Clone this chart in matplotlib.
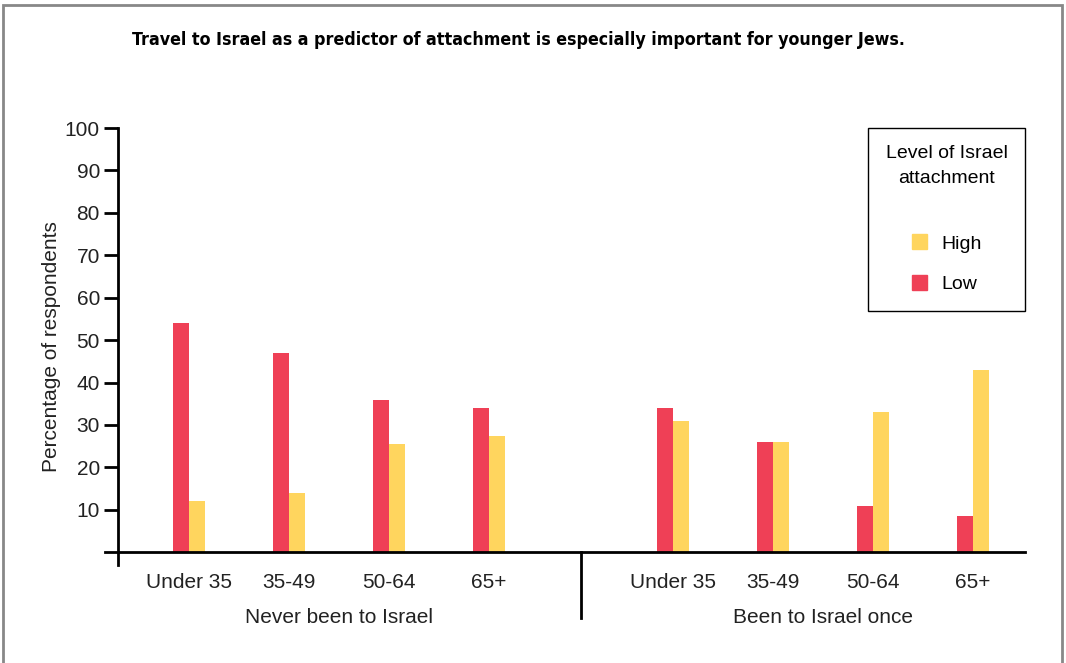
import numpy as np
import matplotlib.pyplot as plt
from matplotlib.patches import Patch, Rectangle

# данные
age_groups = ['Under 35', '35-49', '50-64', '65+']
travel_groups = ['Never been to Israel', 'Been to Israel once']
low_never = [54, 47, 36, 34]
high_never = [12, 14, 25.5, 27.5]
low_once = [34, 26, 11, 8.5]
high_once = [31, 26, 33, 43]

title = 'Travel to Israel as a predictor of attachment is especially important for younger Jews.'
red = '#EF4056'
yellow = '#FFD55E'
text_color = '#222222'

plt.rcParams['font.family'] = ['Liberation Sans', 'DejaVu Sans']

fig = plt.figure(figsize=(10.66, 6.63), dpi=100)
ax = fig.add_axes([105 / 1066, 98 / 663, 920 / 1066, 437 / 663])

gap = 4.84
pos = np.concatenate([np.arange(4), np.arange(4) + gap])
low = low_never + low_once
high = high_never + high_once
w = 0.16

ax.bar(pos - w / 2, low, width=w, color=red, label='Low')
ax.bar(pos + w / 2, high, width=w, color=yellow, label='High')

ax.set_xlim(-0.84, 8.36)
ax.set_ylim(-3, 100)

for s in ['top', 'right']:
    ax.spines[s].set_visible(False)
ax.spines['left'].set_position(('data', -0.71))
ax.spines['bottom'].set_position(('data', 0))
ax.spines['left'].set_linewidth(2)
ax.spines['bottom'].set_linewidth(2)

ax.set_yticks(np.arange(10, 101, 10))
ax.tick_params(axis='y', length=10, width=2, labelsize=15, pad=3, colors=text_color)
ax.tick_params(axis='y', color='black')
ax.set_xticks(pos)
ax.set_xticklabels(age_groups * 2)
ax.tick_params(axis='x', length=0, labelsize=15, pad=15, labelcolor=text_color)

ax.set_ylabel('Percentage of respondents', fontsize=15, color=text_color, labelpad=3)

# подписи групп и разделитель
ax.text(1.5, -15.3, travel_groups[0], ha='center', va='center', fontsize=15, color=text_color)
ax.text(gap + 1.5, -15.3, travel_groups[1], ha='center', va='center', fontsize=15, color=text_color)
ax.plot([(3 + gap) / 2] * 2, [0, -15.5], color='black', lw=2, clip_on=False)

handles = [Patch(color=yellow, label='High'), Patch(color=red, label='Low')]
leg = ax.legend(handles=handles, title='Level of Israel\nattachment\n', loc='upper right',
                bbox_to_anchor=(1.0, 1.0), borderaxespad=0, fontsize=14, title_fontsize=14,
                handlelength=0.8, handleheight=0.8, handletextpad=0.7,
                labelspacing=1.15, borderpad=0.9, fancybox=False, framealpha=1)
leg.get_frame().set_edgecolor('black')
leg.get_frame().set_linewidth(1)
leg.get_title().set_multialignment('center')
leg.get_title().set_linespacing(1.6)

fig.text(518 / 1066, 1 - 40 / 663, title, ha='center', va='center', fontsize=12.8,
         fontweight='bold', family='DejaVu Sans', fontstretch='condensed')

# рамка вокруг рисунка
fig.patches.append(Rectangle((3 / 1066, -0.05), 1059 / 1066, 1 - 5 / 663 + 0.05,
                             transform=fig.transFigure, fill=False,
                             edgecolor='#888888', lw=2))

fig.savefig('out.png', dpi=100)
